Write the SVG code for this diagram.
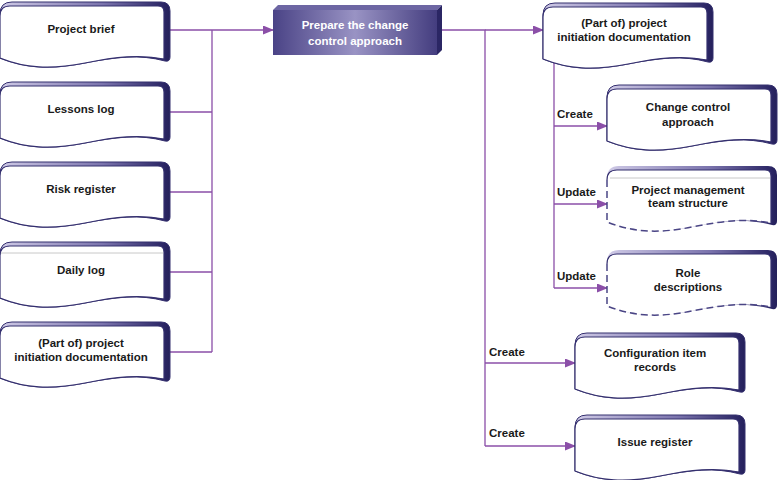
<svg xmlns="http://www.w3.org/2000/svg" xmlns:xlink="http://www.w3.org/1999/xlink" width="778" height="480" viewBox="0 0 778 480">
<style>
.t{font-family:"Liberation Sans",Arial,sans-serif;font-size:11.5px;font-weight:bold;fill:#1a1a1a;text-anchor:middle}
.lbl{font-family:"Liberation Sans",Arial,sans-serif;font-size:11.5px;font-weight:bold;fill:#1a1a1a}
.w{font-family:"Liberation Sans",Arial,sans-serif;font-size:11.5px;font-weight:bold;fill:#ffffff;text-anchor:middle}
.c{fill:none;stroke:#8b4fa8;stroke-width:1.3}
.a{fill:none;stroke:#8b4fa8;stroke-width:1.3;marker-end:url(#arr)}
.gl{stroke:#c8c8c8;stroke-width:1}
</style>
<defs>
<linearGradient id="bev" x1="0" x2="1" y1="0" y2="0">
<stop offset="0" stop-color="#cfcae6"/>
<stop offset="0.6" stop-color="#7b74ad"/>
<stop offset="0.96" stop-color="#2c2766"/>
<stop offset="1" stop-color="#24205a"/>
</linearGradient>
<linearGradient id="cen" x1="0" x2="1" y1="0" y2="0">
<stop offset="0" stop-color="#4a4386"/>
<stop offset="0.5" stop-color="#9993c4"/>
<stop offset="1" stop-color="#443d7f"/>
</linearGradient>
<marker id="arr" markerWidth="11" markerHeight="9" refX="10" refY="4.5" orient="auto" markerUnits="userSpaceOnUse">
<path d="M0,0 L11,4.5 L0,9 Z" fill="#8b4fa8"/>
</marker>
<g id="doc">
<path d="M0,12 Q0,0 12,0 L161,0 Q170,0 170,9 L170,55 Q170,60 165,59 C140,52 115,55 85,61 C50,68 25,66 0,56 Z" fill="url(#bev)" stroke="#35306f" stroke-width="1"/>
<path d="M0,14 Q0,4 10,4 L158,4 Q164,4 164,10 L164,57 C140,52 115,55 85,61 C50,68 25,66 0,56 Z" fill="#ffffff" stroke="#35306f" stroke-width="1.2"/>
</g>
<g id="docd">
<path d="M0,12 Q0,0 12,0 L161,0 Q170,0 170,9 L170,55 Q170,60 165,59 C140,52 115,55 85,61 C50,68 25,66 0,56 Z" fill="url(#bev)" stroke="none"/>
<path d="M0,14 Q0,4 10,4 L158,4 Q164,4 164,10 L164,57 C140,52 115,55 85,61 C50,68 25,66 0,56 Z" fill="#ffffff" stroke="none"/>
<path d="M0,14 Q0,4 10,4 L158,4 Q164,4 164,10 L164,57" fill="none" stroke="#35306f" stroke-width="1.2"/>
<path d="M0,14 L0,56 C25,66 50,68 85,61 C115,55 140,52 164,57" fill="none" stroke="#4a4585" stroke-width="1.5" stroke-dasharray="7 4"/>
</g>
</defs>

<g id="connectors">
<path class="c" d="M170,30 H212 M170,112 H212 M170,192 H212 M170,272 H212 M170,352 H212 M212,30 V352"/>
<path class="a" d="M212,30 H273"/>
<path class="c" d="M442,30 H485 V446"/>
<path class="a" d="M485,30 H543"/>
<path class="a" d="M485,363 H575"/>
<path class="a" d="M485,446 H575"/>
<path class="c" d="M554,63 V288"/>
<path class="a" d="M554,126 H607"/>
<path class="a" d="M554,204 H607"/>
<path class="a" d="M554,288 H607"/>
<text class="lbl" x="557" y="118">Create</text>
<text class="lbl" x="557" y="196">Update</text>
<text class="lbl" x="557" y="280">Update</text>
<text class="lbl" x="489" y="356">Create</text>
<text class="lbl" x="489" y="437">Create</text>
</g>

<g id="project-brief">
<use xlink:href="#doc" href="#doc" x="0" y="2"/>
<text class="t" x="81" y="33">Project brief</text>
</g>
<g id="lessons-log">
<use xlink:href="#doc" href="#doc" x="0" y="82"/>
<text class="t" x="81" y="113">Lessons log</text>
</g>
<g id="risk-register">
<use xlink:href="#doc" href="#doc" x="0" y="162"/>
<text class="t" x="81" y="193">Risk register</text>
</g>
<g id="daily-log">
<use xlink:href="#doc" href="#doc" x="0" y="242"/>
<line class="gl" x1="1" y1="253" x2="163" y2="253"/>
<text class="t" x="81" y="274">Daily log</text>
</g>
<g id="pid-in">
<use xlink:href="#doc" href="#doc" x="0" y="322"/>
<text class="t" x="81" y="347">(Part of) project</text>
<text class="t" x="81" y="361">initiation documentation</text>
</g>

<g id="prepare">
<path d="M273,10 L278,5 L442,5 L437,10 Z" fill="#6d66a3"/>
<path d="M437,10 L442,5 L442,50 L437,55 Z" fill="#2b2664"/>
<rect x="273" y="10" width="164" height="45" fill="url(#cen)"/>
<text class="w" x="355" y="29">Prepare the change</text>
<text class="w" x="355" y="45">control approach</text>
</g>

<g id="pid-out">
<use xlink:href="#doc" href="#doc" x="543" y="3"/>
<text class="t" x="624" y="27">(Part of) project</text>
<text class="t" x="624" y="41">initiation documentation</text>
</g>
<g id="change-control-approach">
<use xlink:href="#doc" href="#doc" x="607" y="85"/>
<text class="t" x="688" y="111">Change control</text>
<text class="t" x="688" y="126">approach</text>
</g>
<g id="pm-team-structure">
<use xlink:href="#docd" href="#docd" x="607" y="166"/>
<line class="gl" x1="610" y1="178" x2="770" y2="178"/>
<text class="t" x="688" y="194">Project management</text>
<text class="t" x="688" y="207">team structure</text>
</g>
<g id="role-descriptions">
<use xlink:href="#docd" href="#docd" x="607" y="250"/>
<text class="t" x="688" y="277">Role</text>
<text class="t" x="688" y="291">descriptions</text>
</g>
<g id="config-item-records">
<use xlink:href="#doc" href="#doc" x="575" y="333"/>
<text class="t" x="655" y="357">Configuration item</text>
<text class="t" x="655" y="371">records</text>
</g>
<g id="issue-register">
<use xlink:href="#doc" href="#doc" x="575" y="415"/>
<text class="t" x="655" y="446">Issue register</text>
</g>
</svg>
